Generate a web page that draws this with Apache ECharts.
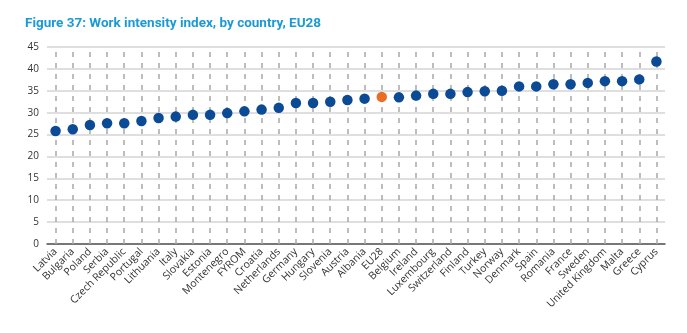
<!DOCTYPE html>
<html><head><meta charset="utf-8">
<script src="https://cdn.jsdelivr.net/npm/echarts@6/dist/echarts.min.js"></script>
<style>html,body{margin:0;padding:0;background:#fff}#c{width:687px;height:333px}</style>
</head><body><div id="c"></div>
<script>
const countries = ["Latvia","Bulgaria","Poland","Serbia","Czech Republic","Portugal","Lithuania","Italy","Slovakia","Estonia","Montenegro","FYROM","Croatia","Netherlands","Germany","Hungary","Slovenia","Austria","Albania","EU28","Belgium","Ireland","Luxembourg","Switzerland","Finland","Turkey","Norway","Denmark","Spain","Romania","France","Sweden","United Kingdom","Malta","Greece","Cyprus"];
const values = [25.8,26.2,27.2,27.6,27.6,28.1,28.8,29.1,29.5,29.5,29.9,30.3,30.7,31.1,32.2,32.2,32.5,32.9,33.2,33.6,33.5,33.9,34.3,34.3,34.7,34.9,35.0,36.0,36.0,36.5,36.5,36.8,37.2,37.2,37.6,41.7];
const highlight = "EU28";
const yTicks = {min:0, max:45, interval:5};

const chart = echarts.init(document.getElementById('c'));
chart.setOption({
  animation:false,
  title:{text:"Figure 37: Work intensity index, by country, EU28", left:20, top:12,
    textStyle:{color:"#1b9ad6", fontFamily:"Roboto", fontWeight:"bold", fontSize:13.5}},
  grid:{left:47, right:22, top:47, bottom:89},
  xAxis:{type:"category", data:countries, boundaryGap:true,
    axisLine:{lineStyle:{color:"#555", width:1.5}},
    axisTick:{show:false},
    axisLabel:{interval:0, rotate:45, fontFamily:"Open Sans", fontSize:10.5, color:"#333", margin:6},
    splitLine:{show:false}
  },
  yAxis:{type:"value", min:yTicks.min, max:yTicks.max, interval:yTicks.interval,
    axisLine:{show:false}, axisTick:{show:false},
    axisLabel:{fontFamily:"Open Sans", fontSize:10, color:"#333", margin:8},
    splitLine:{lineStyle:{color:"#d4d4d4", width:1.5}}
  },
  series:[
    {type:"scatter", symbolSize:10.5, z:5,
     data: values.map((v,i)=>({value:v, itemStyle:{color: countries[i]===highlight ? "#e96d24" : "#0b4a95", opacity:1}})),
     markLine:{silent:true, symbol:"none", label:{show:false}, animation:false,
       lineStyle:{color:"#a8a8a8", width:1.5, type:[5,6], opacity:1},
       data: countries.map(c=>({xAxis:c}))
     }
    }
  ]
});
</script></body></html>
